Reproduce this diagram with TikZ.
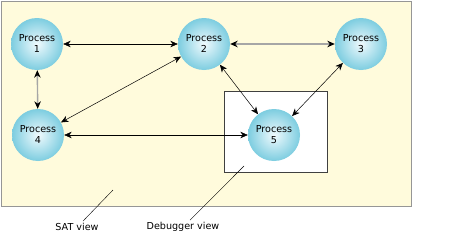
\documentclass[tikz,border=0pt]{standalone}
\usepackage{fontspec}
\setmainfont{DejaVu Sans}
\usepackage{xcolor}
\usepackage{tikz}
\usetikzlibrary{arrows.meta, positioning, calc, backgrounds}

\definecolor{satfill}{RGB}{255,251,220}
\definecolor{satline}{RGB}{150,150,150}
\definecolor{ballout}{RGB}{125,205,224}
\definecolor{ballin}{RGB}{240,250,253}

\begin{document}
\begin{tikzpicture}[
    x=1pt, y=-1pt,
    proc/.style={circle, minimum size=52pt, inner sep=0pt, align=center, shading=radial, inner color=ballin, outer color=ballout, font=\fontsize{9.6}{11}\selectfont},
    arrow/.style={{Stealth[length=7.5pt, width=6.5pt]}-{Stealth[length=7.5pt, width=6.5pt]}, draw=black, line width=0.5pt},
    greyarrow/.style={arrow, draw=black!35, line width=1.4pt, {Stealth[length=7.5pt, width=6.5pt, color=black]}-{Stealth[length=7.5pt, width=6.5pt, color=black]}},
    lead/.style={draw=black, line width=0.4pt},
    lbl/.style={font=\fontsize{9.6}{11}\selectfont, inner sep=0pt}
]
\useasboundingbox (0,0) rectangle (456,233);

% views
\node[draw=satline, fill=satfill, line width=1.2pt, minimum width=410pt, minimum height=205pt, inner sep=0pt, anchor=north west] (sat) at (1,1) {};
\node[draw=black!75, fill=white, line width=0.6pt, minimum width=103pt, minimum height=81pt, inner sep=0pt, anchor=north west] (dbg) at (224,91) {};

% processes
\node[proc] (p1) at (37,44) {Process\\1};
\node[proc] (p2) at (204,44) {Process\\2};
\node[proc] (p3) at (361,44) {Process\\3};
\node[proc] (p4) at (38,135) {Process\\4};
\node[proc] (p5) at (274,135) {Process\\5};

\draw[arrow] (p1) -- (p2);
\draw[greyarrow] (p2) -- (p3);
\draw[greyarrow] (p1) -- (p4);
\draw[arrow] (p2) -- (p4);
\draw[arrow] (p4) -- (p5);
\draw[arrow] (p2) -- (p5);
\draw[arrow] (p3) -- (p5);

% labels
\node[lbl] (satlbl) at (77,227) {SAT view};
\node[lbl] (dbglbl) at (183,227) {Debugger view};
\coordinate (satpt) at (113,190);
\coordinate (dbgpt) at (244,166);
\draw[lead] ($(satlbl.north)+(6,-2)$) -- (satpt);
\draw[lead] ($(dbglbl.north)+(7,-2)$) -- (dbgpt);

\end{tikzpicture}
\end{document}
